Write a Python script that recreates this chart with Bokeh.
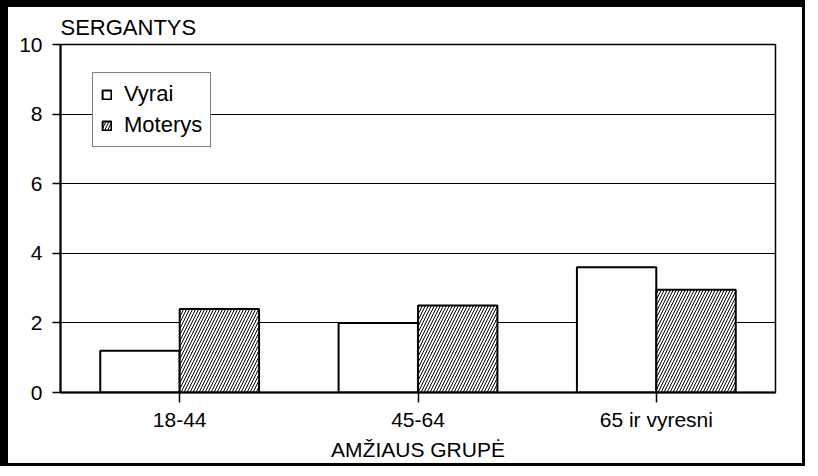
from bokeh.plotting import figure
from bokeh.models import (ColumnDataSource, FactorRange, Range1d, FixedTicker,
                          Legend, LegendItem)
from bokeh.transform import dodge
from bokeh.embed import file_html
from bokeh.resources import INLINE

categories = ["18-44", "45-64", "65 ir vyresni"]
vyrai = [1.2, 2.0, 3.6]
moterys = [2.4, 2.5, 2.95]
y_ticks = [0, 2, 4, 6, 8, 10]
series_names = ["Vyrai", "Moterys"]

FONT = "Liberation Sans"

src = ColumnDataSource(data=dict(cat=categories, vyrai=vyrai, moterys=moterys))

p = figure(x_range=FactorRange(factors=categories), y_range=Range1d(0, 10),
           frame_width=715, frame_height=348,
           min_border_left=52, min_border_right=27, min_border_top=37, min_border_bottom=70,
           output_backend="svg", toolbar_location=None,
           title="SERGANTYS")
p.styles = {"border-left": "8px solid black", "border-top": "7px solid black",
            "border-right": "3px solid black", "border-bottom": "3px solid black"}

p.title.text_font = FONT
p.title.text_font_size = "22px"
p.title.text_font_style = "normal"
p.title.text_color = "black"
p.title.align = "left"
p.title.offset = 0

r1 = p.vbar(x=dodge("cat", -0.1667, range=p.x_range), top="vyrai", width=0.333,
            source=src, fill_color="white", line_color="black", line_width=2)
r2 = p.vbar(x=dodge("cat", 0.1667, range=p.x_range), top="moterys", width=0.333,
            source=src, fill_color="white", line_color="black", line_width=2,
            hatch_pattern="right_diagonal_line", hatch_color="black",
            hatch_weight=1, hatch_scale=6)

p.yaxis.ticker = FixedTicker(ticks=y_ticks)
p.ygrid.ticker = FixedTicker(ticks=y_ticks)
p.ygrid.grid_line_color = "black"
p.ygrid.grid_line_width = 1
p.xgrid.grid_line_color = None

p.outline_line_color = "black"
p.outline_line_width = 1.5
p.outline_line_alpha = 1

for ax in (p.xaxis, p.yaxis):
    ax.axis_line_color = "black"
    ax.axis_line_width = 2
    ax.major_tick_line_color = "black"
    ax.major_tick_line_width = 1.5
    ax.major_tick_in = 0
    ax.minor_tick_line_color = None
    ax.major_label_text_font = FONT
    ax.major_label_text_font_size = "21px"
    ax.major_label_text_color = "black"

p.yaxis.major_tick_out = 8
p.yaxis.major_label_standoff = 10
p.xaxis.major_tick_out = 10
p.xaxis.major_label_standoff = 5
p.xaxis.axis_label = "AMŽIAUS GRUPĖ"
p.xaxis.axis_label_text_font = FONT
p.xaxis.axis_label_text_font_size = "21px"
p.xaxis.axis_label_text_font_style = "normal"
p.xaxis.axis_label_text_color = "black"
p.xaxis.axis_label_standoff = 4

legend = Legend(items=[LegendItem(label=series_names[0], renderers=[r1]),
                       LegendItem(label=series_names[1], renderers=[r2])],
                location=(32, 245))
legend.label_text_font = FONT
legend.label_text_font_size = "22px"
legend.label_text_color = "black"
legend.glyph_width = 11
legend.glyph_height = 11
legend.label_height = 24
legend.label_standoff = 12
legend.spacing = 5
legend.padding = 8
legend.margin = 0
legend.border_line_color = "black"
legend.border_line_width = 1.5
legend.background_fill_color = "white"
legend.background_fill_alpha = 1
p.add_layout(legend)

open("out.html", "w").write(file_html(p, INLINE))
